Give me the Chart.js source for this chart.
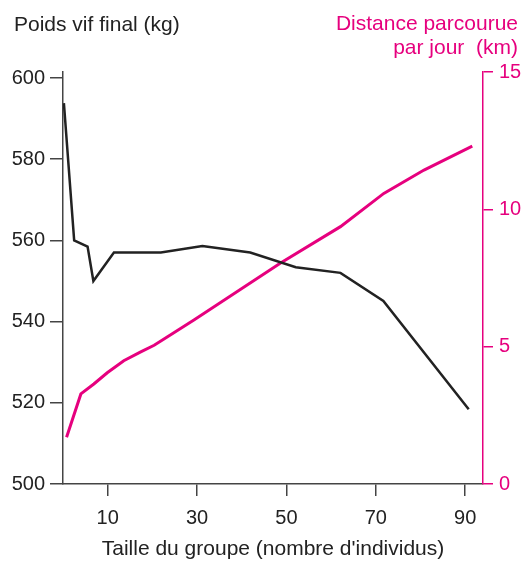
<!DOCTYPE html>
<html>
<head>
<meta charset="utf-8">
<script src="https://cdn.jsdelivr.net/npm/chart.js@4.4.1/dist/chart.umd.min.js"></script>
<style>
  html, body { margin: 0; padding: 0; background: #fff; }
  #wrap { width: 526px; height: 562px; }
</style>
</head>
<body>
<div id="wrap"><canvas id="c" width="526" height="562"></canvas></div>
<script>
// group size (x) and final live weight (kg)
var weightX = [0.2, 2.5, 5.5, 6.8, 11.4, 21.9, 31.2, 41.9, 52.1, 62.1, 71.7, 90.8];
var weightY = [593.8, 560, 558.5, 550, 557, 557, 558.6, 557, 553.4, 552, 545.1, 518.4];

// group size (x) and daily distance travelled (km)
var distX = [0.8, 4.0, 6.9, 9.9, 13.6, 17.4, 20.4, 23.4, 29.3, 48.7, 62.1, 71.8, 80.8, 91.6];
var distY = [1.70, 3.28, 3.64, 4.05, 4.49, 4.81, 5.05, 5.36, 5.97, 8.05, 9.37, 10.58, 11.43, 12.30];

var xTicks = [10, 30, 50, 70, 90];

var PINK = '#e6007e';
var INK = '#222222';
var FONT = 'Liberation Sans, Arial, sans-serif';

function toPoints(xs, ys) {
    var pts = [];
    for (var i = 0; i < xs.length; i++) pts.push({ x: xs[i], y: ys[i] });
    return pts;
}

// top labels (left and right axis names)
var headerPlugin = {
    id: 'header',
    afterDraw: function(chart) {
        var ctx = chart.ctx;
        ctx.save();
        ctx.font = '21px ' + FONT;
        ctx.textBaseline = 'middle';
        ctx.fillStyle = INK;
        ctx.textAlign = 'left';
        ctx.fillText('Poids vif final (kg)', 14, 25);
        ctx.fillStyle = PINK;
        ctx.textAlign = 'right';
        ctx.fillText('Distance parcourue', 518, 24);
        ctx.fillText('par jour  (km)', 518, 48);
        ctx.restore();
    }
};

new Chart(document.getElementById('c'), {
    type: 'line',
    data: {
        datasets: [
            {
                label: 'Poids vif final',
                data: toPoints(weightX, weightY),
                borderColor: INK,
                borderWidth: 2.5,
                pointRadius: 0,
                tension: 0,
                yAxisID: 'y'
            },
            {
                label: 'Distance parcourue',
                data: toPoints(distX, distY),
                borderColor: PINK,
                borderWidth: 3,
                pointRadius: 0,
                tension: 0,
                yAxisID: 'y2'
            }
        ]
    },
    options: {
        responsive: false,
        animation: false,
        layout: { padding: { top: 72, left: 0, right: 0, bottom: 0 } },
        plugins: { legend: { display: false }, tooltip: { enabled: false } },
        scales: {
            x: {
                type: 'linear',
                min: 0,
                max: 94,
                afterBuildTicks: function(scale) {
                    scale.ticks = xTicks.map(function(v) { return { value: v }; });
                },
                afterFit: function(scale) { scale.height = 78; },
                grid: { drawOnChartArea: false, tickLength: 12, color: '#444', lineWidth: 1.5 },
                border: { color: '#444', width: 1.5 },
                ticks: { color: INK, font: { family: FONT, size: 20 }, padding: 10, maxRotation: 0 },
                title: {
                    display: true,
                    text: "Taille du groupe (nombre d'individus)",
                    color: INK,
                    font: { family: FONT, size: 21 },
                    padding: { top: 3, bottom: 0 }
                }
            },
            y: {
                position: 'left',
                min: 500,
                max: 601.48,
                afterFit: function(scale) { scale.width = 63; },
                grid: { drawOnChartArea: false, tickLength: 13, color: '#444', lineWidth: 1.5 },
                border: { color: '#444', width: 1.5 },
                ticks: { stepSize: 20, includeBounds: false, color: INK, font: { family: FONT, size: 20 }, padding: 5 }
            },
            y2: {
                position: 'right',
                min: 0,
                max: 15,
                afterFit: function(scale) { scale.width = 43; },
                grid: { drawOnChartArea: false, tickLength: 10, color: PINK, lineWidth: 1.5 },
                border: { color: PINK, width: 1.5 },
                ticks: { stepSize: 5, color: PINK, font: { family: FONT, size: 20 }, padding: 6 }
            }
        }
    },
    plugins: [headerPlugin]
});
</script>
</body>
</html>
